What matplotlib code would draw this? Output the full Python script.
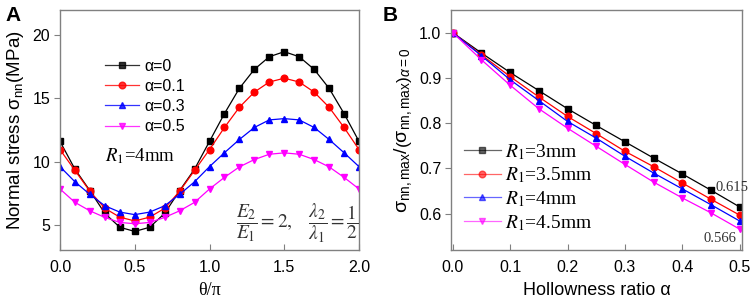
import numpy as np
import matplotlib
matplotlib.use('Agg')
import matplotlib.pyplot as plt

plt.rcParams['font.family'] = ['Liberation Sans', 'DejaVu Sans']
plt.rcParams['mathtext.fontset'] = 'custom'
plt.rcParams['mathtext.rm'] = 'Liberation Sans'
plt.rcParams['mathtext.it'] = 'Liberation Sans:italic'
plt.rcParams['mathtext.bf'] = 'Liberation Sans:bold'

# panel A: normal stress vs theta/pi
theta = [0.0, 0.1, 0.2, 0.3, 0.4, 0.5, 0.6, 0.7, 0.8, 0.9, 1.0,
         1.1, 1.2, 1.3, 1.4, 1.5, 1.6, 1.7, 1.8, 1.9, 2.0]
s_a0 = [11.6, 9.4, 7.7, 5.9, 4.8, 4.47, 4.8, 5.9, 7.7, 9.4, 11.6,
        13.8, 15.8, 17.3, 18.3, 18.7, 18.3, 17.3, 15.8, 13.8, 11.6]
s_a01 = [10.95, 9.3, 7.65, 6.3, 5.6, 5.3, 5.6, 6.3, 7.65, 9.3, 10.95,
         12.7, 14.3, 15.5, 16.3, 16.6, 16.3, 15.5, 14.3, 12.7, 10.95]
s_a03 = [9.6, 8.4, 7.4, 6.5, 6.0, 5.8, 6.0, 6.5, 7.4, 8.4, 9.6,
         10.7, 11.75, 12.7, 13.3, 13.4, 13.3, 12.7, 11.75, 10.7, 9.6]
s_a05 = [7.83, 6.77, 6.1, 5.58, 5.18, 5.08, 5.18, 5.58, 6.1, 6.77, 7.83,
         8.75, 9.58, 10.16, 10.58, 10.69, 10.58, 10.16, 9.58, 8.75, 7.83]
labels_a = ['α=0', 'α=0.1', 'α=0.3', 'α=0.5']

# panel B: normalized max stress vs hollowness ratio
alpha = [0.0, 0.05, 0.1, 0.15, 0.2, 0.25, 0.3, 0.35, 0.4, 0.45, 0.5]
r_30 = [1.0, 0.955, 0.912, 0.872, 0.832, 0.795, 0.759, 0.723, 0.688, 0.652, 0.615]
r_35 = [1.0, 0.951, 0.903, 0.858, 0.815, 0.777, 0.738, 0.704, 0.668, 0.632, 0.597]
r_40 = [1.0, 0.949, 0.896, 0.850, 0.804, 0.767, 0.727, 0.690, 0.655, 0.620, 0.584]
r_45 = [1.0, 0.940, 0.884, 0.832, 0.789, 0.749, 0.709, 0.670, 0.635, 0.602, 0.566]
labels_b = ['3mm', '3.5mm', '4mm', '4.5mm']

colors = ['black', 'red', 'blue', 'magenta']
markers = ['s', 'o', '^', 'v']
spine_col = '#808080'

fig = plt.figure(figsize=(7.54, 2.98), dpi=100)
axA = fig.add_axes([60/754, 48/298, 299/754, 240/298])
axB = fig.add_axes([451/754, 48/298, 291/754, 240/298])

for ys, c, m, lab in zip([s_a0, s_a01, s_a03, s_a05], colors, markers, labels_a):
    axA.plot(theta, ys, color=c, marker=m, markersize=4.8, lw=0.9, label=lab)
axA.set_xlim(0, 2)
axA.set_ylim(3, 22)
axA.set_xticks([0, 0.5, 1.0, 1.5, 2.0])
axA.set_yticks([5, 10, 15, 20])
axA.xaxis.set_major_formatter(matplotlib.ticker.FormatStrFormatter('%.1f'))
axA.set_xlabel('θ/π', fontsize=13, family='Liberation Serif', labelpad=5)
axA.set_ylabel(r'Normal stress $\mathrm{σ}_{\rm nn}$(MPa)', fontsize=13.5, labelpad=5)
leg = axA.legend(loc='upper left', bbox_to_anchor=(0.125, 0.83), frameon=False,
                 fontsize=11.5, handlelength=2.1, labelspacing=0.32, handletextpad=0.35,
                 borderpad=0)
for h in leg.get_lines():
    h.set_alpha(0.8)
axA.text(0.15, 0.37, r'$R_1$=4mm', transform=axA.transAxes, fontsize=13.5,
         family='Liberation Serif', math_fontfamily='stix')
axA.text(0.59, 0.09, r'$\dfrac{E_2}{E_1}=2,\quad\dfrac{\lambda_2}{\lambda_1}=\dfrac{1}{2}$',
         transform=axA.transAxes, fontsize=14, math_fontfamily='stix', color='#333333')

for ys, c, m, lab in zip([r_30, r_35, r_40, r_45], colors, markers, labels_b):
    axB.plot(alpha, ys, color=c, marker=m, markersize=4.8, lw=0.9,
             label=r'$R_1$=' + lab)
axB.set_xlim(-0.003, 0.504)
axB.set_ylim(0.52, 1.05)
axB.set_xticks([0, 0.1, 0.2, 0.3, 0.4, 0.5])
axB.set_yticks([0.6, 0.7, 0.8, 0.9, 1.0])
axB.xaxis.set_major_formatter(matplotlib.ticker.FormatStrFormatter('%.1f'))
axB.set_xlabel('Hollowness ratio α', fontsize=13, labelpad=5)
axB.set_ylabel(r'$\mathrm{σ}_{\rm nn,max}/\left(\mathrm{σ}_{\rm nn,max}\right)_{\alpha=0}$',
               fontsize=14, labelpad=3)
legB = axB.legend(loc='upper left', bbox_to_anchor=(0.01, 0.49), frameon=False,
                  prop={'family': 'Liberation Serif', 'size': 14},
                  handlelength=1.9, labelspacing=0.2, handletextpad=0.25, borderpad=0)
for t in legB.get_texts():
    t.set_math_fontfamily('stix')
for h in legB.get_lines():
    h.set_alpha(0.6)
axB.text(0.487, 0.658, '0.615', fontsize=10.5, family='Liberation Serif',
         ha='center', va='center', color='#333333', clip_on=False)
axB.text(0.465, 0.545, '0.566', fontsize=10.5, family='Liberation Serif',
         ha='center', va='center', color='#333333', clip_on=False)

for ax in (axA, axB):
    for s in ax.spines.values():
        s.set_color(spine_col)
        s.set_linewidth(1.0)
    ax.tick_params(axis='x', direction='in', length=4, width=0.8, color=spine_col,
                   labelsize=11.5, pad=7)
    ax.tick_params(axis='y', direction='out', length=4, width=0.8, color=spine_col,
                   labelsize=11.5, pad=3)

fig.text(5/754, 1 - 21/298, 'A', fontsize=15, fontweight='bold')
fig.text(383/754, 1 - 21/298, 'B', fontsize=15, fontweight='bold')

fig.savefig('out.png', dpi=100)
